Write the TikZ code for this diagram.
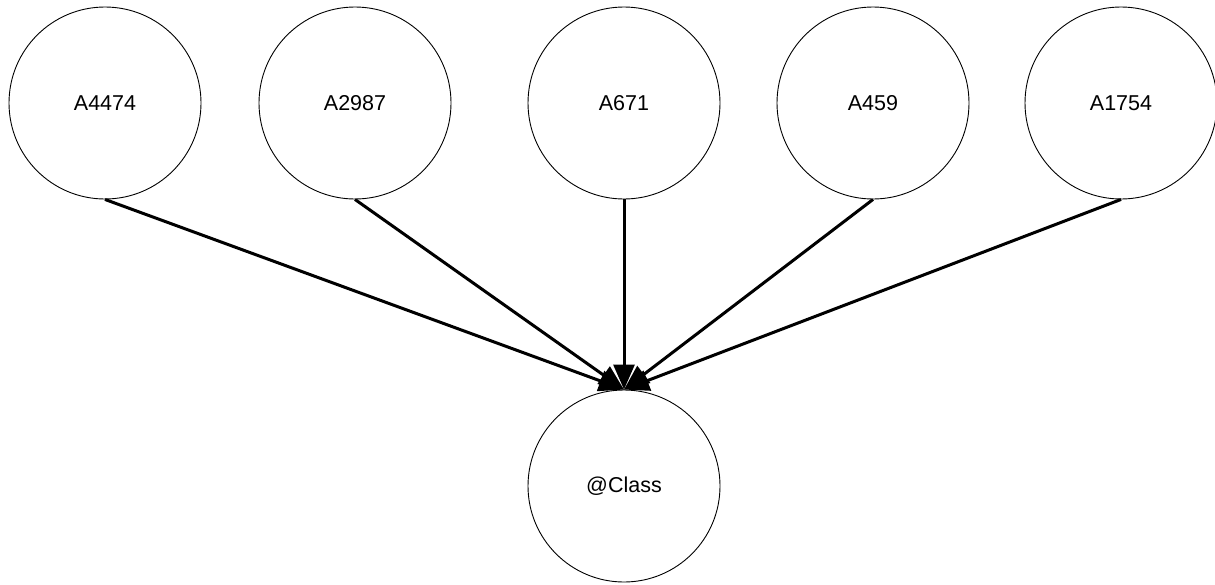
\documentclass[tikz,border=0pt]{standalone}
\usepackage{fontspec}
\setmainfont{Liberation Sans}
\usetikzlibrary{arrows.meta}
\begin{document}
\begin{tikzpicture}[x=1pt,y=-1pt,
  varnode/.style={circle,draw,line width=0.9pt,minimum size=192pt,inner sep=0pt,font=\fontsize{21.5}{26}\selectfont},
  edge/.style={line width=3pt,-{Triangle[length=25pt,width=21pt]}}]
\useasboundingbox (0,0) rectangle (1215,584);
\node[varnode] (a4474) at (105,103) {A4474};
\node[varnode] (a2987) at (355,103) {A2987};
\node[varnode] (a671)  at (624,103) {A671};
\node[varnode] (a459)  at (873,103) {A459};
\node[varnode] (a1754) at (1121,103) {A1754};
\node[varnode] (cls)   at (624,486) {@Class};
\foreach \n in {a4474,a2987,a671,a459,a1754}
  \draw[edge] (\n.south) -- (cls.north);
\end{tikzpicture}
\end{document}
